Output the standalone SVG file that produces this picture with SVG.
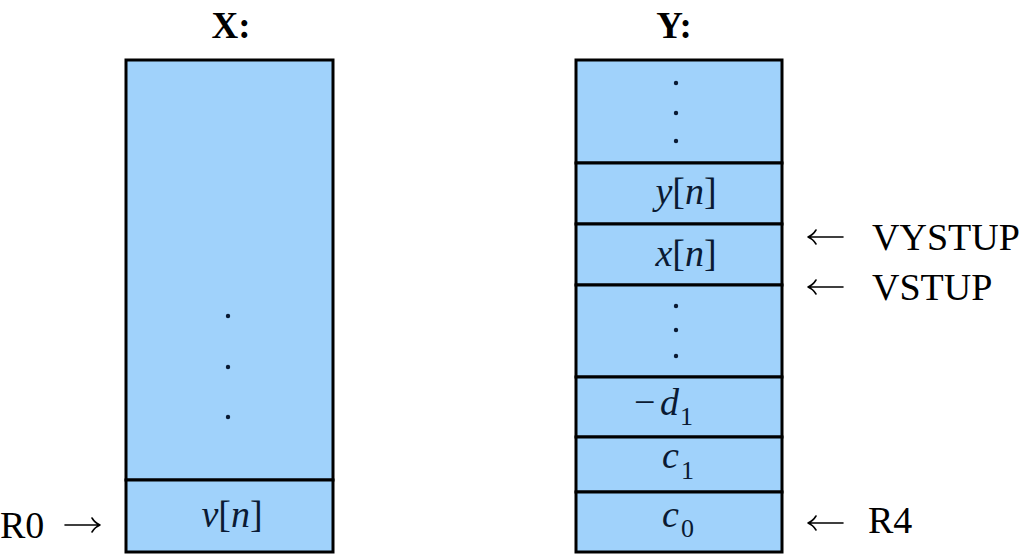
<svg xmlns="http://www.w3.org/2000/svg" width="1023" height="555" viewBox="0 0 1023 555">
<style>
.cell{fill:#a0d2fb;stroke:#000;stroke-width:3}
.t{font-family:"Liberation Serif","Times New Roman",serif;font-size:38px;fill:#000}
.ttl{font-family:"Liberation Serif","Times New Roman",serif;font-size:37px;font-weight:bold;fill:#000}
.v{font-family:"Liberation Serif","Times New Roman",serif;font-size:38px;fill:#0a1a33}
.i{font-style:italic}
.sub{font-size:26px}
.dot{fill:#0a1a33}
.arr{fill:none;stroke:#000;stroke-width:1.6;stroke-linecap:round;stroke-linejoin:round}
</style>
<rect width="1023" height="555" fill="#fff"/>
<g id="titleX"><text class="ttl" x="231" y="38" text-anchor="middle">X:</text></g>
<g id="titleY"><text class="ttl" x="674" y="38" text-anchor="middle">Y:</text></g>
<g id="X">
<rect class="cell" x="126" y="60" width="207" height="420"/>
<circle class="dot" cx="228" cy="316" r="2.2"/>
<circle class="dot" cx="228" cy="367" r="2.2"/>
<circle class="dot" cx="228" cy="417" r="2.2"/>
<rect class="cell" x="126" y="480" width="207" height="72"/>
<text class="v" x="232" y="527" text-anchor="middle"><tspan class="i">v</tspan>[<tspan class="i">n</tspan>]</text>
</g>
<g id="Y">
<rect class="cell" x="576" y="60" width="206" height="103"/>
<circle class="dot" cx="676" cy="83" r="2.2"/>
<circle class="dot" cx="676" cy="113" r="2.2"/>
<circle class="dot" cx="676" cy="141" r="2.2"/>
<rect class="cell" x="576" y="163" width="206" height="61"/>
<text class="v" x="686" y="204" text-anchor="middle"><tspan class="i">y</tspan>[<tspan class="i">n</tspan>]</text>
<rect class="cell" x="576" y="224" width="206" height="61"/>
<text class="v" x="686" y="266" text-anchor="middle"><tspan class="i">x</tspan>[<tspan class="i">n</tspan>]</text>
<rect class="cell" x="576" y="285" width="206" height="92"/>
<circle class="dot" cx="676" cy="306" r="2.2"/>
<circle class="dot" cx="676" cy="330" r="2.2"/>
<circle class="dot" cx="676" cy="356" r="2.2"/>
<rect class="cell" x="576" y="377" width="206" height="60"/>
<text class="v" x="634" y="415">−<tspan x="660" class="i">d</tspan><tspan class="sub" x="680" dy="10">1</tspan></text>
<rect class="cell" x="576" y="437" width="206" height="55"/>
<text class="v" x="662" y="468"><tspan class="i">c</tspan><tspan class="sub" x="681" dy="11">1</tspan></text>
<rect class="cell" x="576" y="492" width="206" height="60"/>
<text class="v" x="662" y="527"><tspan class="i">c</tspan><tspan class="sub" x="681" dy="10">0</tspan></text>
</g>
<g id="labels">
<text class="t" x="0" y="538">R0</text>
<text class="t" x="872" y="250">VYSTUP</text>
<text class="t" x="872" y="300">VSTUP</text>
<text class="t" x="868" y="533">R4</text>
</g>
<g id="connectors">
<path class="arr" d="M65 525H100M92 518Q95 523 100 525Q95 527 92 532"/>
<path class="arr" d="M843 237H808M816 230Q813 235 808 237Q813 239 816 244"/>
<path class="arr" d="M843 287H808M816 280Q813 285 808 287Q813 289 816 294"/>
<path class="arr" d="M843 523H808M816 516Q813 521 808 523Q813 525 816 530"/>
</g>
</svg>
